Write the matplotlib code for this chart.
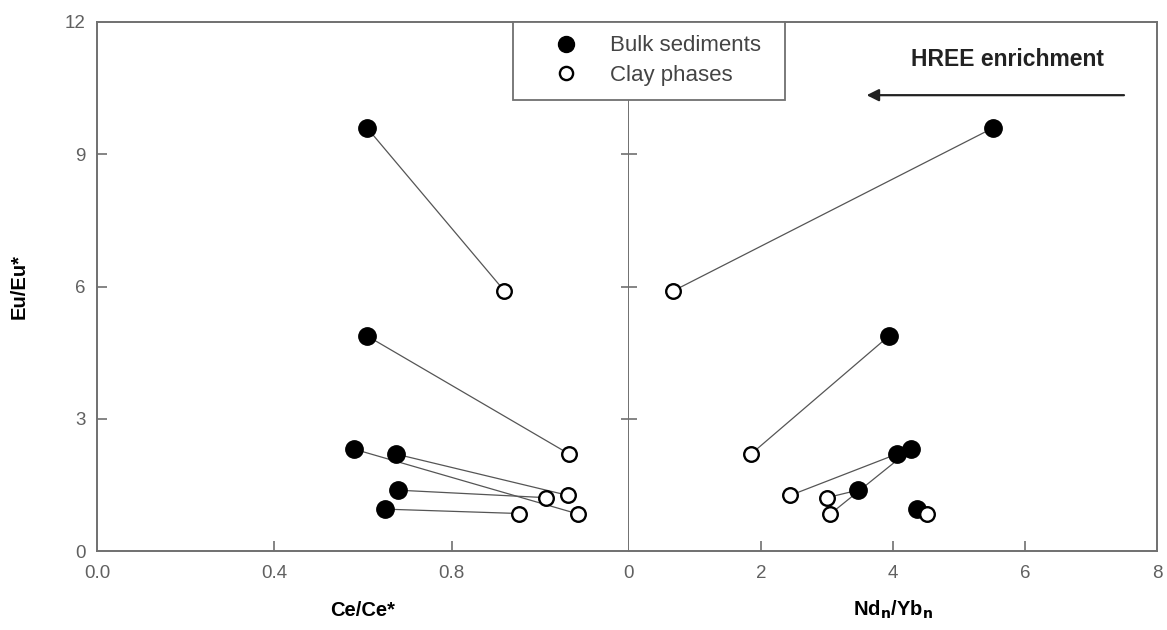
import matplotlib
matplotlib.use("Agg")
import matplotlib.pyplot as plt
from matplotlib.lines import Line2D

plt.rcParams['font.family'] = ['Liberation Sans', 'DejaVu Sans']

# Eu/Eu* for each sample pair (bulk, clay)
eu_bulk = [9.6, 4.88, 2.2, 1.38, 2.31, 0.95]
eu_clay = [5.9, 2.2, 1.26, 1.21, 0.84, 0.85]
# Ce/Ce*
ce_bulk = [0.609, 0.609, 0.674, 0.679, 0.580, 0.649]
ce_clay = [0.919, 1.065, 1.063, 1.013, 1.085, 0.953]
# Nd_n/Yb_n
nd_bulk = [5.52, 3.94, 4.06, 3.47, 4.27, 4.36]
nd_clay = [0.67, 1.85, 2.44, 3.00, 3.05, 4.52]

left_xticks = [0.0, 0.4, 0.8]
left_xticklabels = ['0.0', '0.4', '0.8']
right_xticks = [0, 2, 4, 6, 8]
yticks = [0, 3, 6, 9, 12]
legend_labels = ['Bulk sediments', 'Clay phases']

fig = plt.figure(figsize=(11.67, 6.3), dpi=100)
axL = fig.add_axes([97/1167, 79/630, 532/1167, 529/630])
axR = fig.add_axes([629/1167, 79/630, 528/1167, 529/630], sharey=axL)

spine_c = '#707070'
tick_c = '#707070'
lab_c = '#606060'

def draw(ax, xb, xc):
    for a, b, ya, yb in zip(xb, xc, eu_bulk, eu_clay):
        ax.plot([a, b], [ya, yb], color='#555555', lw=0.9, zorder=2)
    ax.plot(xb, eu_bulk, 'o', ms=12.5, mfc='black', mec='black', zorder=3, ls='none')
    ax.plot(xc, eu_clay, 'o', ms=10.5, mfc='white', mec='black', mew=1.7, zorder=4, ls='none')
    for s in ax.spines.values():
        s.set_color(spine_c)
        s.set_linewidth(1.4)
    ax.tick_params(direction='in', length=7, width=1.2, color=tick_c,
                   labelcolor=lab_c, labelsize=13.5, pad=10)

draw(axL, ce_bulk, ce_clay)
draw(axR, nd_bulk, nd_clay)

axL.set_xlim(0, 1.2)
axL.set_xticks(left_xticks)
axL.set_xticklabels(left_xticklabels)
axL.set_ylim(0, 12)
axL.set_yticks(yticks)
axL.tick_params(axis='y', pad=8)

axR.set_xlim(0, 8)
axR.set_xticks(right_xticks)
axR.tick_params(axis='y', left=True, right=False, labelleft=False, direction='inout', length=12)
axR.xaxis.get_major_ticks()[0].tick1line.set_visible(False)
axR.xaxis.get_major_ticks()[-1].tick1line.set_visible(False)
axL.yaxis.get_major_ticks()[0].tick1line.set_visible(False)
axL.yaxis.get_major_ticks()[-1].tick1line.set_visible(False)
axR.yaxis.get_major_ticks()[0].tick1line.set_visible(False)
axR.yaxis.get_major_ticks()[-1].tick1line.set_visible(False)
axL.xaxis.get_major_ticks()[0].tick1line.set_visible(False)
axR.spines['left'].set_visible(False)

axL.set_xlabel('Ce/Ce*', fontsize=14.5, fontweight='bold', labelpad=14)
axR.set_xlabel(r'Nd$_\mathbf{n}$/Yb$_\mathbf{n}$', fontsize=14.5, fontweight='bold', labelpad=12)
axL.set_ylabel('Eu/Eu*', fontsize=14.5, fontweight='bold', labelpad=26)

# legend
handles = [Line2D([], [], marker='o', ls='none', ms=11.5, mfc='black', mec='black'),
           Line2D([], [], marker='o', ls='none', ms=9.5, mfc='white', mec='black', mew=1.7)]
x0, x1 = 513/1167, 785/1167
y1, y0 = 1 - 22/630, 1 - 98/630
leg = fig.legend(handles, legend_labels,
                 loc='upper left', bbox_to_anchor=(x0, y0, x1 - x0, y1 - y0),
                 mode='expand', frameon=True, fancybox=False, framealpha=1,
                 fontsize=16, labelcolor='#444444',
                 handletextpad=0.15, borderpad=0.6, labelspacing=0.4,
                 borderaxespad=0, handlelength=3.6)
leg.get_frame().set_edgecolor('#707070')
leg.get_frame().set_linewidth(1.3)
leg.set_zorder(10)

# HREE enrichment arrow
axR.annotate('', xy=(3.6, 10.34), xytext=(7.5, 10.34),
             arrowprops=dict(arrowstyle='-|>', color='#222222', lw=1.6,
                             mutation_scale=18, shrinkA=0, shrinkB=0))
axR.text(5.73, 11.14, 'HREE enrichment', fontsize=16.5, fontweight='bold',
         ha='center', va='center', color='#222222')

fig.savefig('out.png', dpi=100)
